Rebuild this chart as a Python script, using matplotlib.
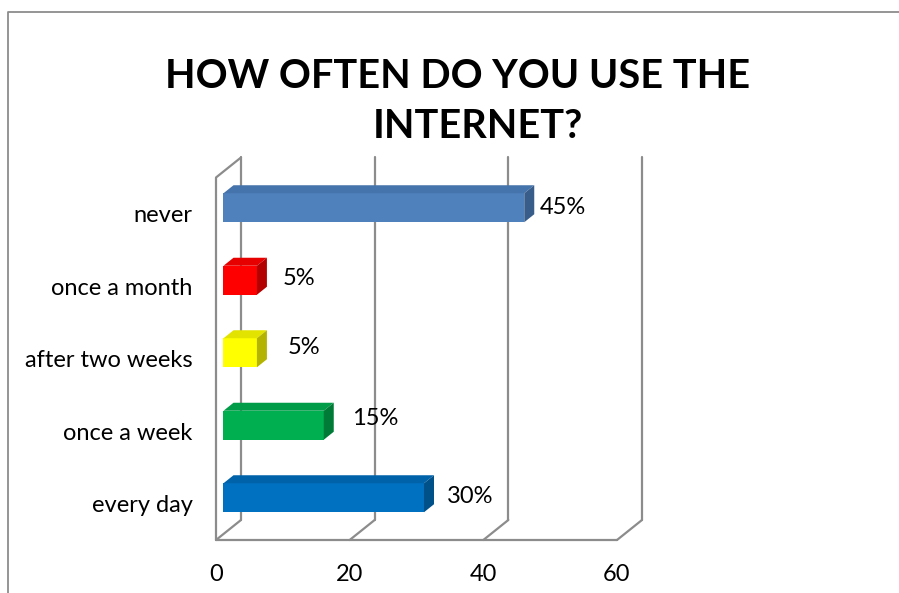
import matplotlib.pyplot as plt
from matplotlib.patches import Polygon
from matplotlib.transforms import offset_copy

plt.rcParams['font.family'] = ['Lato', 'DejaVu Sans']

# data, bottom to top
categories = ['every day', 'once a week', 'after two weeks', 'once a month', 'never']
values = [30, 15, 5, 5, 45]
labels = ['30%', '15%', '5%', '5%', '45%']
xticks = [0, 20, 40, 60]
front_cols = ['#0070c0', '#00b050', '#ffff00', '#ff0000', '#4f81bd']
top_cols = ['#0063aa', '#009c47', '#e3e300', '#e60000', '#4573ab']
side_cols = ['#00508a', '#007a37', '#b3b300', '#b30000', '#385d8a']
# label nudges in points (excel places these a bit unevenly)
label_dx = [9, 13, 15, 11, 4]
label_dy = [-1, 3, 2, -1, -2]

xmax = 60
ddx, ddy = 3.74, 0.276      # full depth of the 3d box in data units
b0, b1 = 0.3, 0.7           # bar depth range (fraction)
bh = 0.4                    # bar height
grid = '#8c8c8c'
fs = 17

fig = plt.figure(figsize=(8.99, 5.93), dpi=100)
# outer chart border
fig.add_artist(plt.Line2D([0.0085, 0.0085, 1.0], [0.0, 0.98, 0.98],
                          transform=fig.transFigure, color='#8c8c8c', lw=1.3))

ax = fig.add_axes([216 / 899, 53 / 593, 401 / 899, 362.5 / 593])
ax.set_xlim(0, xmax)
ax.set_ylim(-0.5, len(categories) - 0.5)
for s in ax.spines.values():
    s.set_visible(False)
ax.set_xticks(xticks)
ax.set_yticks(range(len(categories)))
ax.set_yticklabels(categories)
ax.tick_params(length=0, labelsize=fs)
ax.tick_params(axis='x', pad=17)
ax.tick_params(axis='y', pad=17)

ylo, yhi = -0.5, len(categories) - 0.5
kw = dict(color=grid, lw=1.6, clip_on=False, zorder=1, solid_capstyle='round')
# back wall gridlines and floor diagonals
for t in xticks:
    ax.plot([t + ddx, t + ddx], [ylo + ddy, yhi + ddy], **kw)
    ax.plot([t, t + ddx], [ylo, ylo + ddy], **kw)
# left wall
ax.plot([0, 0], [ylo, yhi], **kw)
ax.plot([0, ddx], [yhi, yhi + ddy], **kw)
# floor front edge
ax.plot([0, xmax], [ylo, ylo], **kw)

# 3d bars
for i, v in enumerate(values):
    x0, y0 = b0 * ddx, i - bh / 2 + b0 * ddy
    ex, ey = (b1 - b0) * ddx, (b1 - b0) * ddy
    front = [(x0, y0), (x0 + v, y0), (x0 + v, y0 + bh), (x0, y0 + bh)]
    top = [(x0, y0 + bh), (x0 + v, y0 + bh), (x0 + v + ex, y0 + bh + ey), (x0 + ex, y0 + bh + ey)]
    side = [(x0 + v, y0), (x0 + v + ex, y0 + ey), (x0 + v + ex, y0 + bh + ey), (x0 + v, y0 + bh)]
    for pts, c in ((front, front_cols[i]), (top, top_cols[i]), (side, side_cols[i])):
        ax.add_patch(Polygon(pts, closed=True, fc=c, ec='none', zorder=3, clip_on=False))
    tr = offset_copy(ax.transData, fig=fig, x=label_dx[i], y=label_dy[i], units='points')
    ax.text(x0 + v + ex, i + 0.12, labels[i], fontsize=fs, va='center', ha='left',
            zorder=4, transform=tr)

fig.text(458 / 899, 1 - 77 / 593, 'HOW OFTEN DO YOU USE THE', ha='center', va='center',
         fontsize=28.5, fontweight='bold')
fig.text(478 / 899, 1 - 127 / 593, 'INTERNET?', ha='center', va='center',
         fontsize=28.5, fontweight='bold')

fig.savefig('out.png', dpi=100)
